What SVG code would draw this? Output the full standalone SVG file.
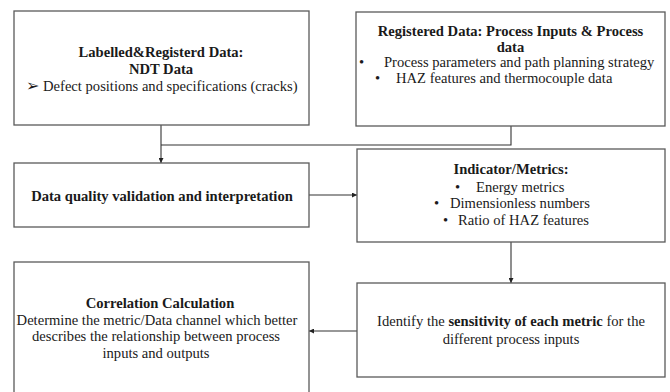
<svg xmlns="http://www.w3.org/2000/svg" width="670" height="392" viewBox="0 0 670 392">
<style>
.box{fill:#fff;stroke:#5a5a5a;stroke-width:1.3}
.t{font-family:'Liberation Serif','Times New Roman',Times,serif;font-size:14.6px;fill:#1a1a1a}
.b{font-weight:bold}
.c{text-anchor:middle}
.con{fill:none;stroke:#333;stroke-width:1.1}
</style>
<defs>
<marker id="ah" viewBox="0 0 10 10" refX="10" refY="5" markerWidth="5" markerHeight="5" orient="auto" markerUnits="userSpaceOnUse">
<path d="M0,0 L10,5 L0,10 z" fill="#222"/>
</marker>
</defs>
<rect width="670" height="392" fill="#fff"/>
<g id="connectors">
<path class="con" d="M161,125 V163" marker-end="url(#ah)"/>
<path class="con" d="M511,126 V145 H161"/>
<path class="con" d="M309,195 H357" marker-end="url(#ah)"/>
<path class="con" d="M511,242 V283" marker-end="url(#ah)"/>
<path class="con" d="M357,331 H309" marker-end="url(#ah)"/>
</g>
<g id="n1">
<rect class="box" x="14" y="11" width="295" height="114"/>
<text class="t b c" x="161" y="57">Labelled&amp;Registerd Data:</text>
<text class="t b c" x="161" y="74">NDT Data</text>
<text class="t" y="91"><tspan x="26" style="font-family:'DejaVu Sans',sans-serif;font-size:16px">➢</tspan><tspan x="43">Defect positions and specifications (cracks)</tspan></text>
</g>
<g id="n2">
<rect class="box" x="356" y="12" width="309" height="114"/>
<text class="t b c" x="510.5" y="36">Registered Data: Process Inputs &amp; Process</text>
<text class="t b c" x="510.5" y="52">data</text>
<text class="t" y="67"><tspan x="359">•</tspan><tspan x="384">Process parameters and path planning strategy</tspan></text>
<text class="t" y="83"><tspan x="375">•</tspan><tspan x="396">HAZ features and thermocouple data</tspan></text>
</g>
<g id="n3">
<rect class="box" x="14" y="163" width="295" height="64"/>
<text class="t b c" x="162" y="201">Data quality validation and interpretation</text>
</g>
<g id="n4">
<rect class="box" x="357" y="149" width="308" height="93"/>
<text class="t b c" x="511" y="174">Indicator/Metrics:</text>
<text class="t" y="192"><tspan x="455">•</tspan><tspan x="476">Energy metrics</tspan></text>
<text class="t" y="208"><tspan x="434">•</tspan><tspan x="450">Dimensionless numbers</tspan></text>
<text class="t" y="225"><tspan x="443">•</tspan><tspan x="458">Ratio of HAZ features</tspan></text>
</g>
<g id="n5">
<rect class="box" x="357" y="283" width="308" height="94"/>
<text class="t c" x="511" y="326">Identify the <tspan class="b">sensitivity of each metric</tspan> for the</text>
<text class="t c" x="511" y="344">different process inputs</text>
</g>
<g id="n6">
<rect class="box" x="14" y="262" width="295" height="140"/>
<text class="t b c" x="160" y="308">Correlation Calculation</text>
<text class="t c" x="157" y="325">Determine the metric/Data channel which better</text>
<text class="t c" x="156" y="341">describes the relationship between process</text>
<text class="t c" x="156" y="358">inputs and outputs</text>
</g>
</svg>
